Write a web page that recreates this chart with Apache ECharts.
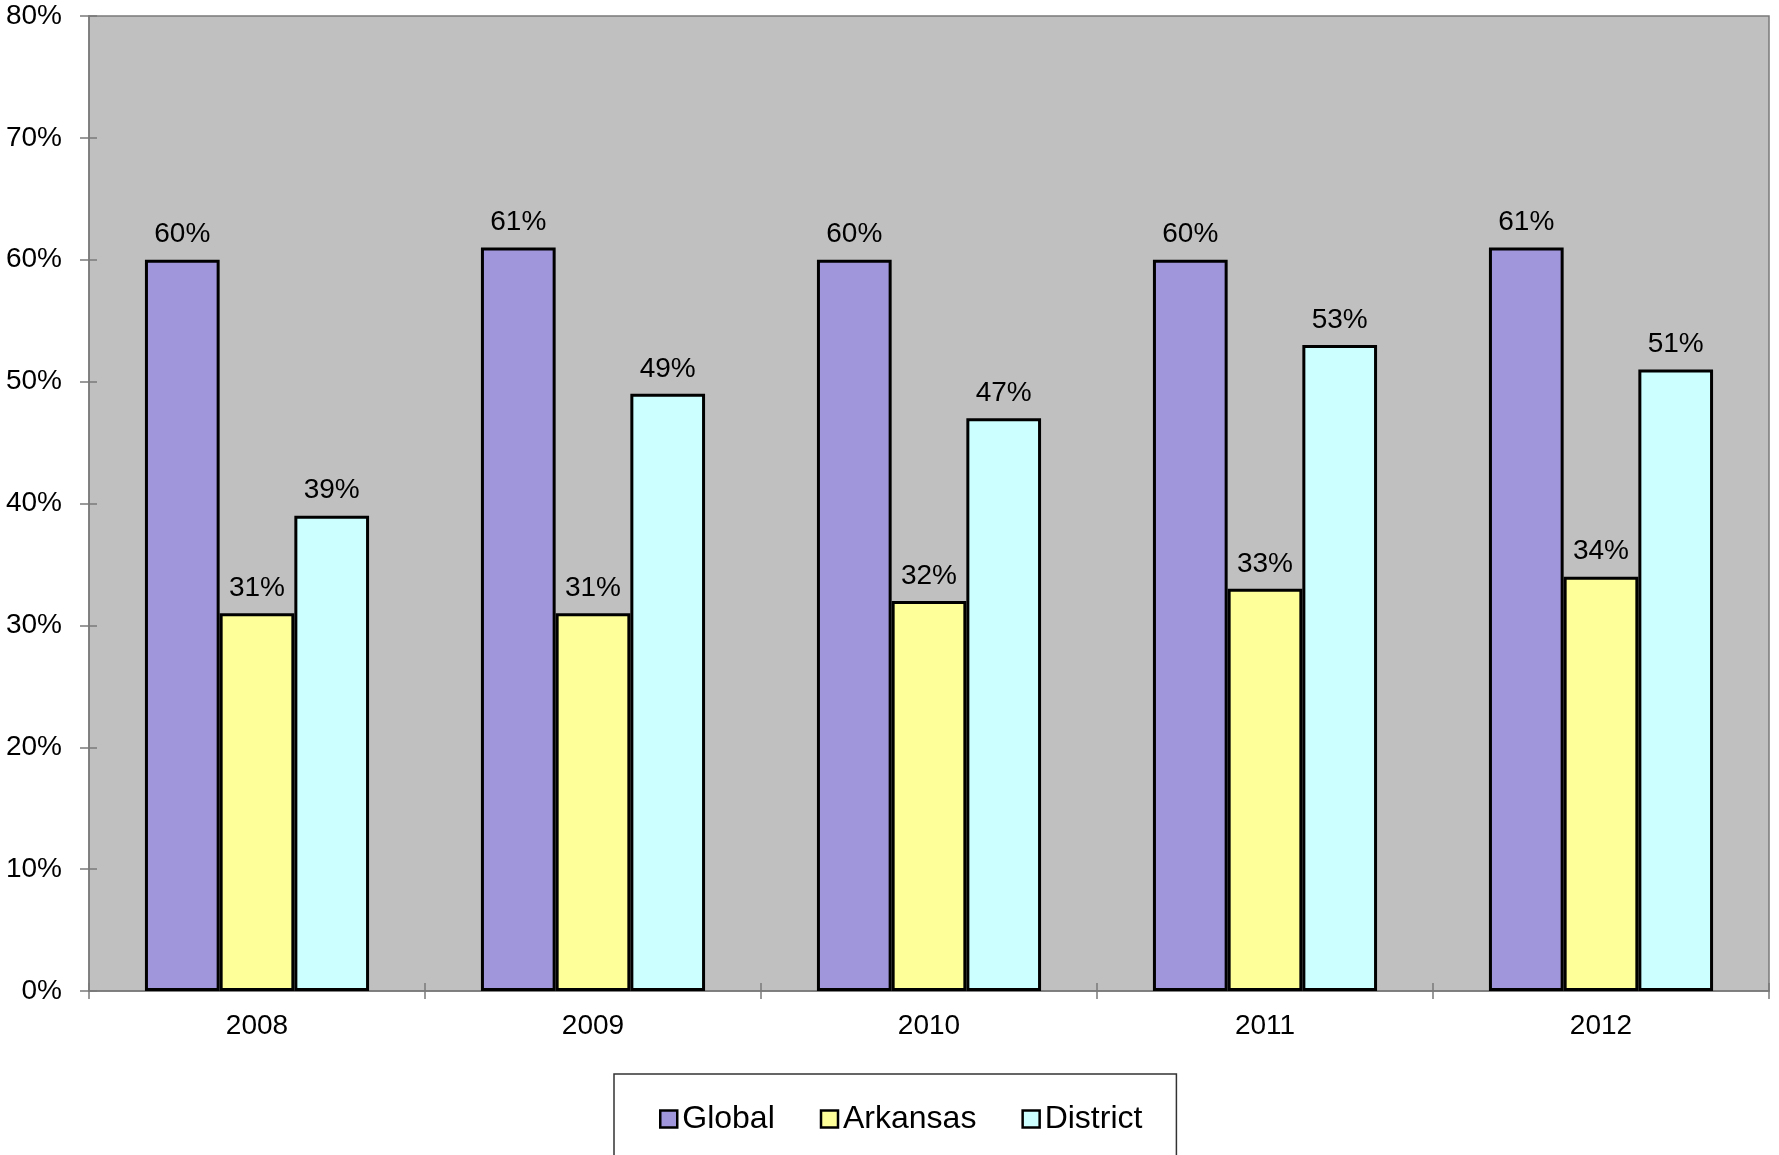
<!DOCTYPE html>
<html>
<head>
<meta charset="utf-8">
<script src="https://cdn.jsdelivr.net/npm/echarts@6/dist/echarts.min.js"></script>
<style>html,body{margin:0;padding:0;background:#fff;}#c{width:1779px;height:1155px;}</style>
</head>
<body>
<div id="c"></div>
<script>
const categories = ['2008', '2009', '2010', '2011', '2012'];
const globalVals = [60, 61, 60, 60, 61];
const arkansasVals = [31, 31, 32, 33, 34];
const districtVals = [39, 49, 47, 53, 51];
const seriesNames = ['Global', 'Arkansas', 'District'];
const colors = ['#A096DC', '#FFFF99', '#CCFFFF'];

const font = 'Liberation Sans, Arial, sans-serif';
const chart = echarts.init(document.getElementById('c'));

function bar(name, data, color) {
  return {
    name: name, type: 'bar', data: data, xAxisIndex: 0, yAxisIndex: 0,
    barGap: '0%', barCategoryGap: '33.3%',
    itemStyle: { color: color, borderColor: '#000', borderWidth: 3 },
    label: { show: true, position: 'top', distance: 11, formatter: '{c}%',
      color: '#000', fontFamily: font, fontSize: 28 }
  };
}

chart.setOption({
  animation: false,
  backgroundColor: '#fff',
  textStyle: { fontFamily: font },
  grid: { left: 89, right: 10, top: 16, bottom: 164, show: true,
    backgroundColor: '#C0C0C0', borderColor: '#7a7a7a', borderWidth: 1.5 },
  legend: {
    data: seriesNames, left: 614, top: 1074, orient: 'horizontal',
    padding: [29, 34, 64, 45], itemGap: 45, itemWidth: 17, itemHeight: 17,
    borderColor: '#333', borderWidth: 1.5, backgroundColor: '#fff',
    icon: 'rect',
    itemStyle: { borderColor: '#000', borderWidth: 2.5 },
    textStyle: { fontFamily: font, fontSize: 32, color: '#000' }
  },
  xAxis: [{
    type: 'category', data: categories, position: 'bottom',
    axisLine: { lineStyle: { color: '#7a7a7a', width: 1.5 } },
    axisTick: { show: true, length: 8, lineStyle: { color: '#7a7a7a', width: 1.5 } },
    axisLabel: { color: '#000', fontSize: 28, fontFamily: font, margin: 21 },
    splitLine: { show: false }
  }, {
    type: 'category', data: categories, position: 'bottom', gridIndex: 0,
    axisLine: { show: false },
    axisTick: { show: true, inside: true, length: 8, lineStyle: { color: '#7a7a7a', width: 1.5 } },
    axisLabel: { show: false }, splitLine: { show: false }
  }],
  yAxis: [{
    type: 'value', min: 0, max: 80, interval: 10,
    axisLine: { show: true, lineStyle: { color: '#7a7a7a', width: 1.5 } },
    axisTick: { show: true, length: 9, lineStyle: { color: '#7a7a7a', width: 1.5 } },
    axisLabel: { color: '#000', fontSize: 28, fontFamily: font, margin: 27, formatter: '{value}%', padding: [4, 0, 0, 0] },
    splitLine: { show: false }
  }, {
    type: 'value', min: 0, max: 80, interval: 10, position: 'left',
    axisLine: { show: false },
    axisTick: { show: true, inside: true, length: 8, lineStyle: { color: '#7a7a7a', width: 1.5 } },
    axisLabel: { show: false }, splitLine: { show: false }
  }],
  series: [
    bar(seriesNames[0], globalVals, colors[0]),
    bar(seriesNames[1], arkansasVals, colors[1]),
    bar(seriesNames[2], districtVals, colors[2])
  ]
});
</script>
</body>
</html>
